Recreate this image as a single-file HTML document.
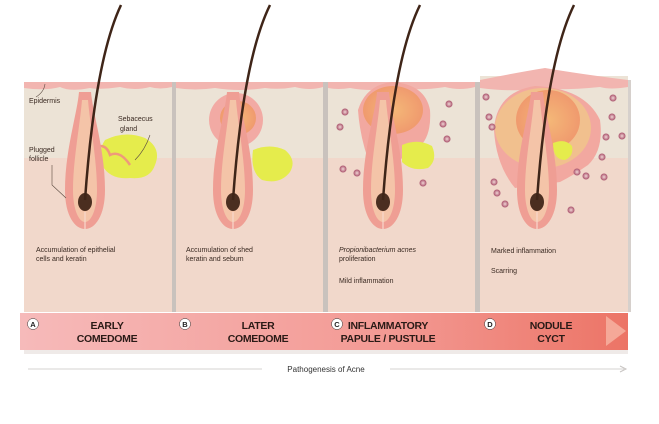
<!DOCTYPE html>
<html><head><meta charset="utf-8"><style>
html,body{margin:0;padding:0;background:#fff;}
svg{display:block;}
text{font-family:"Liberation Sans",sans-serif;}
.s{font-size:7px;fill:#3a2a22;}
.b{font-size:10.5px;font-weight:bold;fill:#2a1a16;text-anchor:middle;letter-spacing:-0.3px;}
</style></head><body>
<svg width="659" height="424" viewBox="0 0 659 424" xmlns="http://www.w3.org/2000/svg">
<defs>
<linearGradient id="band" x1="0" x2="1"><stop offset="0" stop-color="#f6baba"/><stop offset="0.6" stop-color="#f39a94"/><stop offset="1" stop-color="#ec7466"/></linearGradient>
<radialGradient id="dot"><stop offset="0" stop-color="#f2d6d6"/><stop offset="1" stop-color="#a8506a"/></radialGradient>
<radialGradient id="or"><stop offset="0" stop-color="#f4b878"/><stop offset="1" stop-color="#f09a6e"/></radialGradient>
<g id="fol">
<path d="M-6,92 C-8,115 -20,150 -20,190 C-20,216 -10,229 0,229 C10,229 20,216 20,190 C20,150 8,115 6,92 Z" fill="#ef9e94"/>
<path d="M-3,100 C-5,125 -12,160 -12,190 C-12,210 -6,222 0,222 C6,222 12,210 12,190 C12,160 5,125 3,100 Z" fill="#f4c4a8"/>
<ellipse cx="0" cy="202" rx="7" ry="9" fill="#4b2e20"/>
<line x1="0" y1="212" x2="0" y2="229" stroke="#f7d8cc" stroke-width="1.2"/>
</g>
</defs>
<rect width="659" height="424" fill="#fff"/>
<g>
<rect x="24" y="82" width="148" height="230" fill="#f1d8cb"/><rect x="24" y="82" width="148" height="76" fill="#ece3d6"/>
<rect x="176" y="82" width="147" height="230" fill="#f1d8cb"/><rect x="176" y="82" width="147" height="76" fill="#ece3d6"/>
<rect x="328" y="82" width="147" height="230" fill="#f1d8cb"/><rect x="328" y="82" width="147" height="76" fill="#ece3d6"/>
<rect x="480" y="76" width="148" height="236" fill="#f1d8cb"/><rect x="480" y="76" width="148" height="82" fill="#ece3d6"/>
<rect x="172" y="82" width="4" height="230" fill="#c9c2bd"/>
<rect x="323" y="82" width="5" height="230" fill="#c9c2bd"/>
<rect x="475" y="82" width="5" height="230" fill="#c9c2bd"/>
<rect x="628" y="80" width="3" height="232" fill="#d6d0cc"/>
<path d="M24,82 H172 V87 Q160,90 150,87 Q135,91 120,87 Q100,90 90,88 Q70,92 60,87 Q45,91 24,88Z" fill="#f2b5b0"/>
<path d="M176,82 H323 V87 Q310,91 295,87 Q280,90 265,88 Q240,92 215,88 Q195,91 176,88Z" fill="#f2b5b0"/>
<path d="M328,82 H475 V87 Q460,91 445,87 Q420,91 400,88 Q370,92 350,88 Q338,90 328,88Z" fill="#f2b5b0"/>
<path d="M480,80 Q520,72 545,68 Q580,74 628,80 V87 Q610,90 600,87 Q570,90 545,89 Q510,92 480,88Z" fill="#f2b5b0"/>
</g>
<!-- A -->
<path d="M105,140 Q125,130 145,138 Q162,148 155,165 Q150,180 130,178 Q110,180 102,165 Q98,150 105,140Z" fill="#e5ec4c"/>
<path d="M90,150 Q105,140 110,155 Q120,150 130,165" stroke="#ef9a7a" stroke-width="2.5" fill="none"/>
<use href="#fol" x="85"/>
<!-- B -->
<ellipse cx="236" cy="120" rx="27" ry="27" fill="#f2aaa4"/>
<ellipse cx="238" cy="118" rx="18" ry="17" fill="url(#or)"/>
<path d="M253,150 Q270,143 285,150 Q297,160 290,172 Q280,185 262,180 Q250,172 253,150Z" fill="#e5ec4c"/>
<use href="#fol" x="233"/>
<!-- C -->
<path d="M358,110 Q366,85 392,82 Q425,84 430,110 Q432,140 415,150 Q400,155 395,170 L372,170 Q360,140 358,110Z" fill="#f2a8a0"/>
<ellipse cx="393" cy="110" rx="30" ry="24" fill="url(#or)"/>
<use href="#fol" x="383"/>
<path d="M402,145 Q418,138 432,146 Q438,160 428,168 Q412,172 402,162Z" fill="#e5ec4c"/>
<!-- D -->
<path d="M494,130 Q496,92 535,86 Q585,88 600,120 Q604,150 588,165 Q572,176 560,182 L515,188 Q496,165 494,130Z" fill="#f2a8a0"/>
<ellipse cx="543" cy="128" rx="48" ry="40" fill="#f1c08e"/>
<ellipse cx="548" cy="120" rx="32" ry="30" fill="url(#or)"/>
<use href="#fol" x="537"/>
<path d="M553,143 Q565,138 572,146 Q574,156 565,160 Q553,160 553,143Z" fill="#e5ec4c"/>
<g fill="url(#dot)">
<circle cx="345" cy="112" r="3.5"/><circle cx="340" cy="127" r="3.5"/><circle cx="449" cy="104" r="3.5"/><circle cx="443" cy="124" r="3.5"/><circle cx="447" cy="139" r="3.5"/><circle cx="343" cy="169" r="3.5"/><circle cx="357" cy="173" r="3.5"/><circle cx="423" cy="183" r="3.5"/>
<circle cx="486" cy="97" r="3.5"/><circle cx="489" cy="117" r="3.5"/><circle cx="492" cy="127" r="3.5"/><circle cx="613" cy="98" r="3.5"/><circle cx="612" cy="117" r="3.5"/><circle cx="606" cy="137" r="3.5"/><circle cx="622" cy="136" r="3.5"/><circle cx="602" cy="157" r="3.5"/><circle cx="577" cy="172" r="3.5"/><circle cx="586" cy="176" r="3.5"/><circle cx="604" cy="177" r="3.5"/><circle cx="494" cy="182" r="3.5"/><circle cx="497" cy="193" r="3.5"/><circle cx="505" cy="204" r="3.5"/><circle cx="571" cy="210" r="3.5"/>
</g>
<g stroke="#3f2518" stroke-width="2.5" fill="none">
<path d="M121,5 Q95,60 85,200"/>
<path d="M270,5 Q243,60 233,200"/>
<path d="M420,5 Q393,60 383,200"/>
<path d="M574,5 Q547,60 537,200"/>
</g>
<g stroke="#5a4a40" stroke-width="0.6" fill="none">
<path d="M36,97 Q44,92 45,84"/><path d="M150,135 Q145,150 135,160"/><path d="M52,165 L52,185 L66,198"/>
</g>
<text class="s" x="29" y="103">Epidermis</text>
<text class="s" x="118" y="121">Sebacecus</text>
<text class="s" x="120" y="131">gland</text>
<text class="s" x="29" y="152">Plugged</text>
<text class="s" x="29" y="161">follicle</text>
<text class="s" x="36" y="252">Accumulation of epithelial</text>
<text class="s" x="36" y="261">cells and keratin</text>
<text class="s" x="186" y="252">Accumulation of shed</text>
<text class="s" x="186" y="261">keratin and sebum</text>
<text class="s" x="339" y="252"><tspan font-style="italic">Propionibacterium acnes</tspan></text>
<text class="s" x="339" y="261">proliferation</text>
<text class="s" x="339" y="283">Mild inflammation</text>
<text class="s" x="491" y="253">Marked inflammation</text>
<text class="s" x="491" y="273">Scarring</text>
<rect x="20" y="313" width="608" height="37" fill="url(#band)"/>
<path d="M606,316 L626,331 L606,346Z" fill="#f5a898"/>
<rect x="24" y="350" width="604" height="4" fill="#e4dcd8" opacity="0.6"/>
<g fill="#fff" stroke="#333" stroke-width="0.5">
<circle cx="33" cy="324" r="5.5"/><circle cx="185" cy="324" r="5.5"/><circle cx="337" cy="324" r="5.5"/><circle cx="490" cy="324" r="5.5"/>
</g>
<g font-size="7.5" font-weight="bold" text-anchor="middle" fill="#222">
<text x="33" y="327">A</text><text x="185" y="327">B</text><text x="337" y="327">C</text><text x="490" y="327">D</text>
</g>
<text class="b" x="107" y="329">EARLY</text><text class="b" x="107" y="342">COMEDOME</text>
<text class="b" x="258" y="329">LATER</text><text class="b" x="258" y="342">COMEDOME</text>
<text class="b" x="388" y="329">INFLAMMATORY</text><text class="b" x="388" y="342">PAPULE / PUSTULE</text>
<text class="b" x="551" y="329">NODULE</text><text class="b" x="551" y="342">CYCT</text>
<line x1="28" y1="369" x2="262" y2="369" stroke="#c8c4c2" stroke-width="0.8"/>
<line x1="390" y1="369" x2="624" y2="369" stroke="#c8c4c2" stroke-width="0.8"/>
<path d="M620,366 L626,369 L620,372" stroke="#c8c4c2" fill="none"/>
<text x="326" y="372" font-size="8" text-anchor="middle" fill="#333">Pathogenesis of Acne</text>
</svg>
</body></html>
